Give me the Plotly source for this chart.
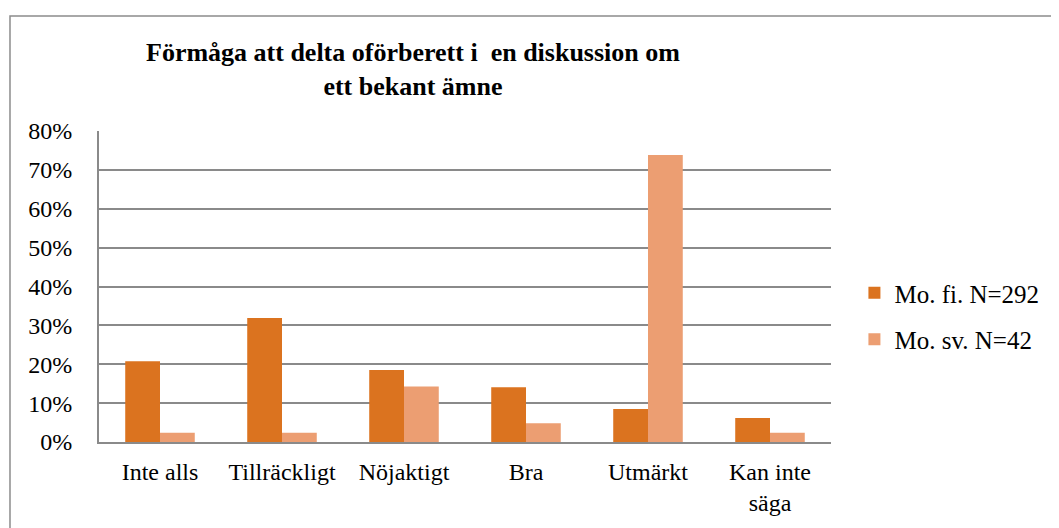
import plotly.graph_objects as go

categories = ["Inte alls", "Tillräckligt", "Nöjaktigt", "Bra", "Utmärkt", "Kan inte<br>säga"]
series_fi_name = "Mo. fi. N=292"
series_sv_name = "Mo. sv. N=42"
values_fi = [20.8, 31.9, 18.5, 14.1, 8.5, 6.2]
values_sv = [2.4, 2.4, 14.3, 4.8, 73.8, 2.4]
y_ticks = [0, 10, 20, 30, 40, 50, 60, 70, 80]
y_tick_labels = [f"{v}%" for v in y_ticks]
title_lines = ["Förmåga att delta oförberett i\u00a0 en diskussion om", "ett bekant ämne"]

FONT = "Liberation Serif"
GRID = "#8a8a8a"

fig = go.Figure()
fig.add_trace(go.Bar(
    x=categories, y=values_fi, name=series_fi_name,
    marker=dict(color="#DB731F", line=dict(width=0)),
    legendgroup="a",
))
fig.add_trace(go.Bar(
    x=categories, y=values_sv, name=series_sv_name,
    marker=dict(color="#EC9E72", line=dict(width=0)),
    legendgroup="b",
))

# page body has an 8px margin, so the figure is offset by 8px
fig.update_layout(
    width=1059, height=528,
    margin=dict(l=91, r=236, t=123, b=94, autoexpand=False),
    paper_bgcolor="white", plot_bgcolor="white",
    barmode="group", bargap=0.43, bargroupgap=0,
    showlegend=True,
    legend=dict(
        x=1.032, y=0.405, xanchor="left", yanchor="middle",
        font=dict(family=FONT, size=25, color="black"),
        traceorder="grouped", tracegroupgap=11,
        bgcolor="rgba(0,0,0,0)",
    ),
    annotations=[dict(
        text="<b>" + "<br>".join(title_lines) + "</b>",
        x=0.429, y=1.199, xref="paper", yref="paper",
        xanchor="center", yanchor="middle", showarrow=False,
        font=dict(family=FONT, size=26, color="black"),
    )],
    shapes=[dict(
        type="rect", xref="paper", yref="paper",
        x0=-0.1216, y0=-0.30, x1=1.33, y1=1.3698,
        line=dict(color="#8c8c8c", width=1.5), layer="below",
    )],
)

fig.update_xaxes(
    showline=True, linecolor=GRID, linewidth=2,
    showgrid=False, ticks="", ticklabelstandoff=7,
    tickfont=dict(family=FONT, size=24, color="black"),
    automargin=False,
)
fig.update_yaxes(
    range=[0, 80], tickmode="array", tickvals=y_ticks, ticktext=y_tick_labels,
    showline=True, linecolor=GRID, linewidth=2,
    showgrid=True, gridcolor=GRID, gridwidth=2,
    zeroline=False, ticks="", ticklabelstandoff=20,
    tickfont=dict(family=FONT, size=24, color="black"),
    automargin=False,
)

fig.write_html("out.html")
